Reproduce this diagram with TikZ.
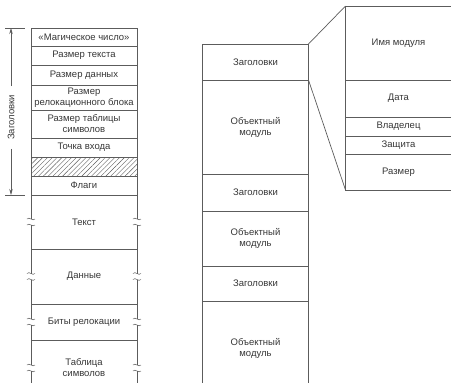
\documentclass[tikz,border=0pt]{standalone}
\usepackage{fontspec}
\setmainfont{Liberation Sans}
\usetikzlibrary{patterns.meta,arrows.meta}
\definecolor{linegray}{HTML}{5C5C5C}
\definecolor{textgray}{HTML}{363636}

\begin{document}
\begin{tikzpicture}[x=1pt,y=-1pt,>={Stealth[length=6pt,width=3.5pt]},line width=0.7pt,color=linegray,
  lab/.style={text=textgray,font=\fontsize{9.5}{11}\selectfont,align=center,inner sep=1pt,outer sep=0pt,minimum width=106pt},
  cell/.style={lab,draw},
  brk/.pic={\fill[white] (-2,-3) rectangle (2,3);
            \draw[line width=0.5pt] (-4,-3) .. controls (-1.5,-6) and (1.5,0) .. (4,-3);
            \draw[line width=0.5pt] (-4,3) .. controls (-1.5,0) and (1.5,6) .. (4,3);}]

                \useasboundingbox (0,0) rectangle (451,383);

                % left column
                \node[cell, minimum height=18pt] (magic) at (84,37) {«Магическое число»};
                \node[cell, minimum height=19pt] (textsz) at (84,55.5) {Размер текста};
                \node[cell, minimum height=20pt] (datasz) at (84,75) {Размер данных};
                \node[cell, minimum height=25pt] (relsz) at (84,97.5) {Размер\\релокационного блока};
                \node[cell, minimum height=28pt] (symsz) at (84,124) {Размер таблицы\\символов};
                \node[cell, minimum height=19pt] (entry) at (84,147.5) {Точка входа};
                \node[cell, minimum height=19pt, pattern={Lines[angle=45,distance=3.4pt,line width=0.4pt]}, pattern color=linegray] (hatch) at (84,166.5) {};
                \node[cell, minimum height=19pt] (flags) at (84,185.5) {Флаги};
                \node[cell, minimum height=54pt] (txt) at (84,222) {Текст};
                \node[cell, minimum height=55pt] (dat) at (84,276.5) {Данные};
                \node[cell, minimum height=36pt] (relbits) at (84,322) {Биты релокации};
                \node[lab] (symtab) at (84,368) {Таблица\\символов};
                \draw (relbits.south west) -- ++(0,45);
                \draw (relbits.south east) -- ++(0,45);

                \foreach \c in {txt,dat,relbits,symtab} {
                    \pic at (\c.west) {brk};
                    \pic at (\c.east) {brk};
                }

                % dimension
                \coordinate (dtop) at (11,28);
                \coordinate (dbot) at (11,195);
                \node[lab, minimum width=0pt, rotate=90, inner xsep=9pt] (hdrlbl) at (11,117.5) {Заголовки};
                \draw[->] (hdrlbl) -- (dtop);
                \draw[->] (hdrlbl) -- (dbot);
                \draw (5,28) -- (25,28);
                \draw (5,195) -- (25,195);

                % middle column
                \node[cell, minimum height=36pt] (hdr1) at (255.5,62) {Заголовки};
                \node[cell, minimum height=94pt] (obj1) at (255.5,127) {Объектный\\модуль};
                \node[cell, minimum height=37pt] (hdr2) at (255.5,192.5) {Заголовки};
                \node[cell, minimum height=55pt] (obj2) at (255.5,238.5) {Объектный\\модуль};
                \node[cell, minimum height=35pt] (hdr3) at (255.5,283.5) {Заголовки};
                \node[lab] (obj3) at (255.5,348) {Объектный\\модуль};
                \draw (hdr3.south west) -- ++(0,85);
                \draw (hdr3.south east) -- ++(0,85);

                % right box
                \node[lab, minimum height=74pt] (name) at (398.5,43) {Имя модуля};
                \node[lab, minimum height=37pt] (date) at (398.5,98.5) {Дата};
                \node[lab, minimum height=19pt] (owner) at (398.5,126.5) {Владелец};
                \node[lab, minimum height=18pt] (prot) at (398.5,145) {Защита};
                \node[lab, minimum height=36pt] (size) at (398.5,172) {Размер};
                \draw (name.north east) -- (name.north west) -- (size.south west) -- (size.south east);
                \foreach \n in {date,owner,prot,size}
                    \draw (\n.north west) -- (\n.north east);

                \draw (hdr1.north east) -- (name.north west);
                \draw (hdr1.south east) -- (size.south west);

            \end{tikzpicture}
\end{document}
